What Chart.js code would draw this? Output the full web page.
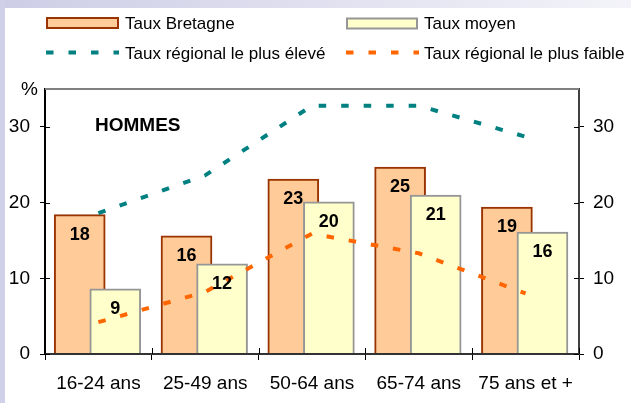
<!DOCTYPE html>
<html>
<head>
<meta charset="utf-8">
<script src="https://cdn.jsdelivr.net/npm/chart.js@4/dist/chart.umd.min.js"></script>
<style>
  html, body { margin: 0; padding: 0; background: #fff; }
  #wrap { width: 631px; height: 403px; }
</style>
</head>
<body>
<div id="wrap"><canvas id="theChart" width="631" height="403"></canvas></div>
<script>
'use strict';

// chart data
let ageGroups = ['16-24 ans', '25-49 ans', '50-64 ans', '65-74 ans', '75 ans et +'];
let tauxBretagne = [18.4, 15.6, 23.1, 24.7, 19.4];
let tauxMoyen = [8.6, 11.9, 20.1, 21.0, 16.1];
let tauxMax = [18.6, 23.6, 32.8, 32.8, 28.7];
let tauxMin = [4.2, 8.2, 15.9, 13.3, 8.0];
let yTicks = [0, 10, 20, 30];

let seriesNames = ['Taux Bretagne', 'Taux moyen', 'Taux régional le plus élevé', 'Taux régional le plus faible'];
let panelTitle = 'HOMMES';

const FONT = "'Liberation Sans', Arial, sans-serif";
const bretFill = '#FFCC99', bretLine = '#993300';
const moyFill = '#FFFFCC', moyLine = '#969696';
const tealCol = '#008080', orangeCol = '#FF6600';
const dash = [7.5, 15];

Chart.defaults.font.family = FONT;
Chart.defaults.color = '#000';

function toPoints(values, shift) {
  return values.map((v, i) => ({ x: i + shift, y: v }));
}

// background, value labels, legend, title
const decorPlugin = {
  id: 'decor',
  beforeDraw(chart) {
    const ctx = chart.ctx;
    ctx.save();
    ctx.fillStyle = '#fff';
    ctx.fillRect(0, 0, chart.width, chart.height);
    let grad = ctx.createLinearGradient(0, 0, chart.width, 0);
    grad.addColorStop(0, '#cdcde6');
    grad.addColorStop(1, '#f3f3f9');
    ctx.fillStyle = grad;
    ctx.fillRect(0, 0, chart.width, 8);
    ctx.fillStyle = '#d0d0e8';
    ctx.fillRect(0, 0, 5, chart.height);
    ctx.restore();
  },
  afterDatasetsDraw(chart) {
    const ctx = chart.ctx;
    ctx.save();
    ctx.font = 'bold 18px ' + FONT;
    ctx.fillStyle = '#000';
    ctx.textAlign = 'center';
    ctx.textBaseline = 'middle';
    [0, 1].forEach(d => {
      let meta = chart.getDatasetMeta(d);
      meta.data.forEach((bar, i) => {
        let val = chart.data.datasets[d].data[i].y;
        ctx.fillText(String(Math.round(val)), bar.x, bar.y + 20);
      });
    });
    ctx.restore();
  },
  afterDraw(chart) {
    const ctx = chart.ctx;
    const area = chart.chartArea;
    const yl = chart.scales.y;
    const xl = chart.scales.xl;
    ctx.save();

    // top frame line
    ctx.strokeStyle = '#808080';
    ctx.lineWidth = 2;
    ctx.beginPath();
    ctx.moveTo(area.left, area.top);
    ctx.lineTo(area.right, area.top);
    ctx.stroke();

    // inner halves of tick marks
    ctx.lineWidth = 1;
    ctx.strokeStyle = '#000';
    ctx.beginPath();
    yTicks.forEach(v => {
      let py = Math.round(yl.getPixelForValue(v)) + 0.5;
      ctx.moveTo(area.left, py); ctx.lineTo(area.left + 5, py);
      ctx.moveTo(area.right - 5, py); ctx.lineTo(area.right, py);
    });
    for (let i = 0; i <= ageGroups.length; i++) {
      let px = Math.round(xl.getPixelForValue(i - 0.5)) + 0.5;
      ctx.moveTo(px, area.bottom - 6); ctx.lineTo(px, area.bottom);
    }
    ctx.stroke();

    // % and panel title
    ctx.fillStyle = '#000';
    ctx.textBaseline = 'alphabetic';
    ctx.textAlign = 'left';
    ctx.font = '19px ' + FONT;
    ctx.fillText('%', 21, 95);
    ctx.font = 'bold 19px ' + FONT;
    ctx.fillText(panelTitle, 95, 131);

    // legend
    ctx.font = '17px ' + FONT;
    ctx.lineWidth = 2;
    ctx.fillStyle = bretFill; ctx.strokeStyle = bretLine;
    ctx.fillRect(47, 18, 71, 10); ctx.strokeRect(47, 18, 71, 10);
    ctx.fillStyle = moyFill; ctx.strokeStyle = moyLine;
    ctx.fillRect(347, 18.5, 70, 10); ctx.strokeRect(347, 18.5, 70, 10);
    ctx.lineWidth = 4;
    ctx.lineCap = 'butt';
    ctx.setLineDash(dash);
    ctx.strokeStyle = tealCol;
    ctx.beginPath(); ctx.moveTo(46, 52.5); ctx.lineTo(119, 52.5); ctx.stroke();
    ctx.strokeStyle = orangeCol;
    ctx.beginPath(); ctx.moveTo(346, 52.5); ctx.lineTo(419, 52.5); ctx.stroke();
    ctx.setLineDash([]);
    ctx.fillStyle = '#000';
    ctx.fillText(seriesNames[0], 125, 29);
    ctx.fillText(seriesNames[1], 424, 29);
    ctx.fillText(seriesNames[2], 125, 59);
    ctx.fillText(seriesNames[3], 424, 59);
    ctx.restore();
  }
};

const data = {
  labels: ageGroups,
  datasets: [
    {
      type: 'bar', label: seriesNames[0], data: toPoints(tauxBretagne, -0.175),
      xAxisID: 'xl', yAxisID: 'y', order: 2, grouped: false, barThickness: 51,
      backgroundColor: bretFill, borderColor: bretLine, borderWidth: 2
    },
    {
      type: 'bar', label: seriesNames[1], data: toPoints(tauxMoyen, 0.158),
      xAxisID: 'xl', yAxisID: 'y', order: 1, grouped: false, barThickness: 51,
      backgroundColor: moyFill, borderColor: moyLine, borderWidth: 2
    },
    {
      type: 'line', label: seriesNames[2], data: toPoints(tauxMax, 0),
      xAxisID: 'xl', yAxisID: 'y', order: 0,
      borderColor: tealCol, borderWidth: 4, borderDash: dash, borderCapStyle: 'butt',
      pointRadius: 0, tension: 0, fill: false
    },
    {
      type: 'line', label: seriesNames[3], data: toPoints(tauxMin, 0),
      xAxisID: 'xl', yAxisID: 'y', order: 0,
      borderColor: orangeCol, borderWidth: 4, borderDash: dash, borderCapStyle: 'butt',
      pointRadius: 0, tension: 0, fill: false
    }
  ]
};

function setTicks(axis) {
  axis.ticks = yTicks.map(v => ({ value: v }));
}

const config = {
  type: 'bar',
  data: data,
  plugins: [decorPlugin],
  options: {
    responsive: false,
    animation: false,
    devicePixelRatio: 1,
    layout: { padding: { top: 89, left: 0, right: 0, bottom: 0 } },
    plugins: { legend: { display: false }, tooltip: { enabled: false } },
    scales: {
      xl: { type: 'linear', min: -0.5, max: 4.5, offset: false, display: false },
      x: {
        type: 'category', position: 'bottom', offset: true,
        grid: { offset: true, drawOnChartArea: false, tickLength: 6, color: '#000' },
        border: { color: '#333', width: 2, z: 1 },
        ticks: { font: { size: 19 }, padding: 12, maxRotation: 0, autoSkip: false },
        afterFit: s => { s.height = 49; }
      },
      y: {
        type: 'linear', position: 'left', min: 0, max: 35,
        afterBuildTicks: setTicks,
        grid: { drawOnChartArea: false, tickLength: 5, color: '#000' },
        border: { color: '#000', width: 2, z: 1 },
        ticks: { font: { size: 19 }, padding: 10 },
        afterFit: s => { s.width = 45; }
      },
      y2: {
        type: 'linear', position: 'right', min: 0, max: 35,
        afterBuildTicks: setTicks,
        grid: { drawOnChartArea: false, tickLength: 5, color: '#000' },
        border: { color: '#404040', width: 2, z: 1 },
        ticks: { font: { size: 19 }, padding: 9 },
        afterFit: s => { s.width = 52; }
      }
    }
  }
};

new Chart(document.getElementById('theChart'), config);
</script>
</body>
</html>
